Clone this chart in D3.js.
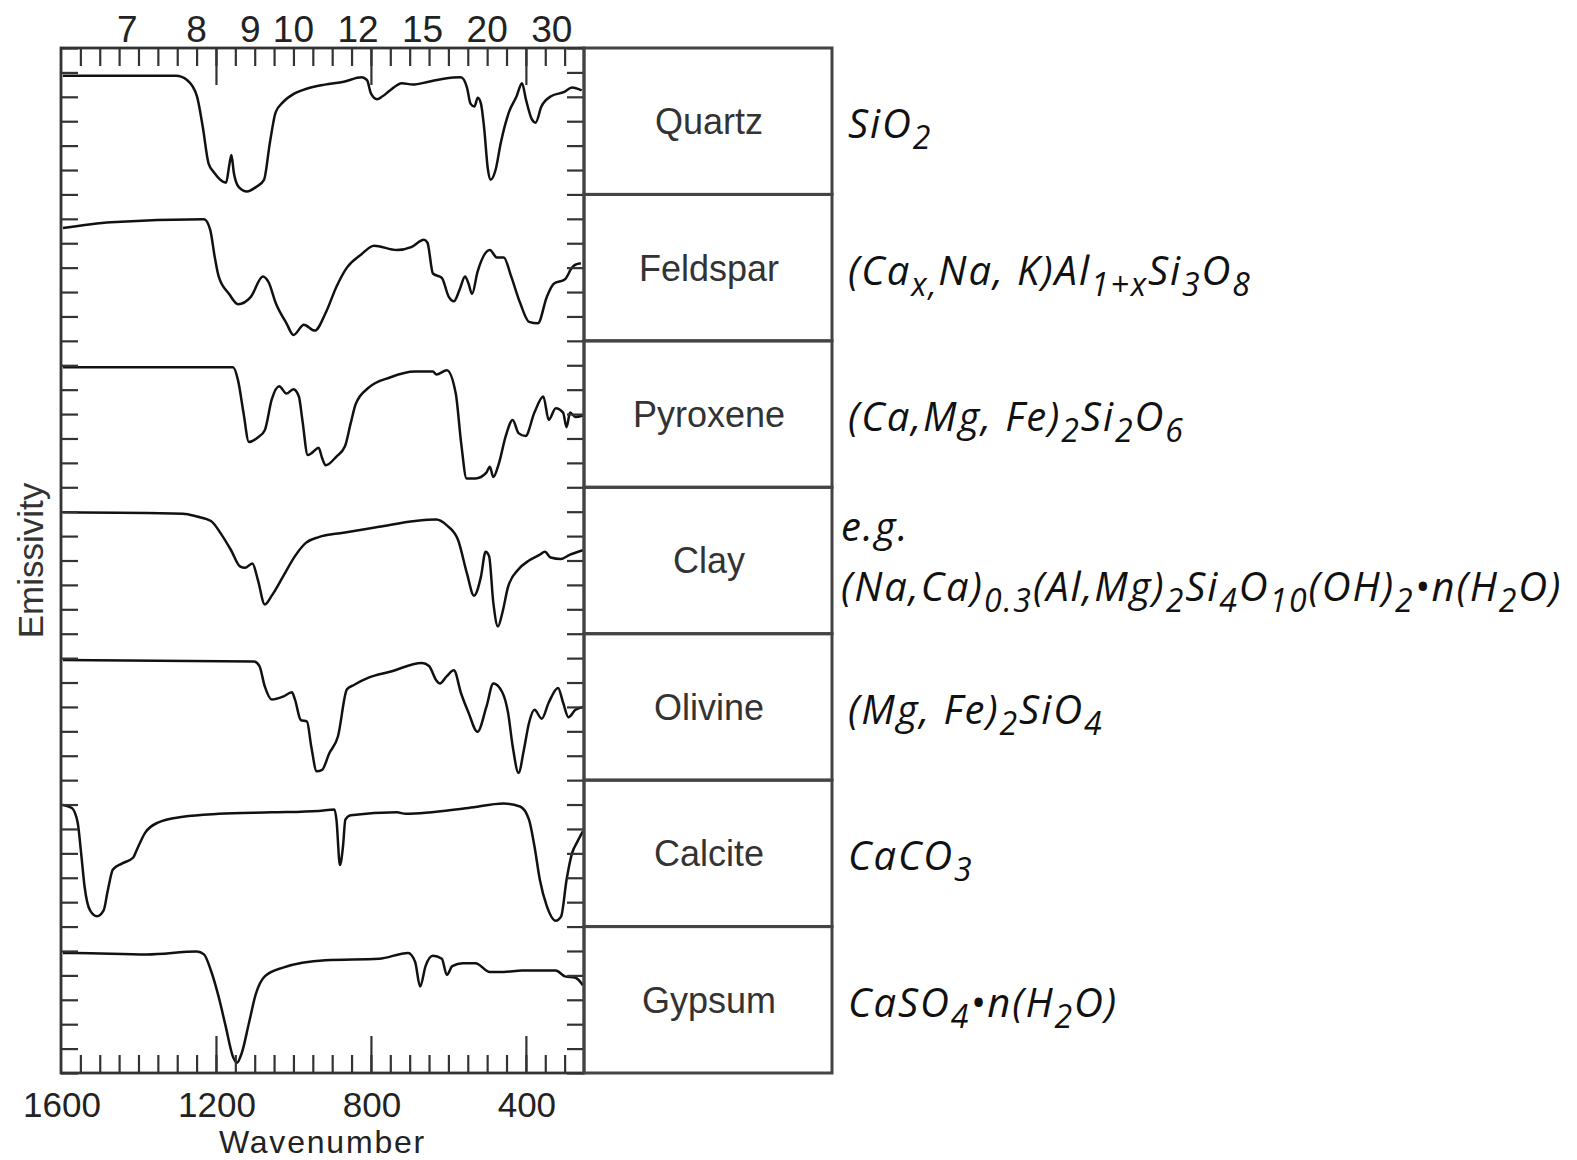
<!DOCTYPE html>
<html><head><meta charset="utf-8">
<script src="https://cdn.jsdelivr.net/npm/d3@7"></script>
<style>
body{margin:0;background:#fff;}
svg{display:block;}
</style>
</head><body>
<svg id="chart" width="1577" height="1160"></svg>
<script>
// ---------------- DATA ----------------
const minerals = ["Quartz","Feldspar","Pyroxene","Clay","Olivine","Calcite","Gypsum"];

const quartzWn = [1595,1303,1274,1249,1234,1219,1205,1174,1165,1160,1154,1141,1120,1097,1076,1061,1046,1027,997,968,919,870,824,810,800,784,770,751,720,692,651,612,568,552,543,533,524,516,508,498,491,478,465,444,424,410,400,384,375,360,335,301,281,256];
const quartzEm = [.81,.81,.78,.67,.46,.21,.15,.08,.21,.27,.15,.05,.02,.05,.10,.35,.56,.63,.69,.72,.75,.77,.80,.78,.69,.65,.67,.71,.76,.75,.77,.79,.80,.73,.62,.60,.66,.62,.46,.17,.10,.17,.35,.56,.67,.76,.65,.51,.49,.60,.67,.70,.73,.71];

const feldsparWn = [1595,1471,1231,1215,1203,1193,1166,1143,1110,1079,1064,1046,1018,1000,973,945,917,889,862,825,792,733,696,663,654,640,617,599,586,571,557,548,539,525,493,475,457,438,415,392,369,346,328,299,281,272,258];
const feldsparEm = [.77,.81,.83,.76,.57,.44,.32,.25,.30,.44,.40,.26,.12,.04,.11,.07,.19,.37,.50,.59,.65,.62,.64,.69,.67,.46,.43,.30,.27,.35,.44,.39,.32,.47,.62,.57,.57,.44,.26,.13,.12,.30,.39,.42,.50,.52,.53];

const pyroxeneWn = [1595,1156,1143,1129,1115,1092,1074,1056,1037,1018,1000,986,977,963,950,935,926,917,889,867,852,839,806,751,686,640,631,604,581,567,553,530,502,493,484,470,452,434,419,401,378,355,341,323,304,295,286,272,253];
const pyroxeneEm = [.82,.82,.73,.51,.31,.34,.39,.60,.69,.64,.67,.62,.46,.22,.24,.27,.20,.15,.21,.28,.44,.57,.68,.75,.79,.79,.77,.80,.64,.30,.06,.06,.10,.14,.07,.16,.35,.46,.37,.35,.51,.62,.46,.54,.51,.41,.51,.48,.49];

const clayWn = [1595,1285,1249,1213,1184,1161,1138,1125,1106,1092,1074,1056,1027,996,968,935,871,779,686,631,604,575,552,534,516,504,495,484,472,461,446,419,392,364,351,336,310,286,253];
const clayEm = [.83,.82,.80,.77,.67,.57,.46,.45,.48,.37,.20,.26,.39,.53,.62,.66,.69,.73,.77,.78,.74,.64,.41,.26,.39,.56,.53,.21,.05,.14,.32,.44,.50,.54,.56,.52,.51,.54,.57];

const olivineWn = [1595,1102,1088,1074,1056,1027,1004,996,981,965,954,940,926,908,885,862,844,806,751,668,650,631,622,604,586,567,548,525,502,484,461,446,434,419,405,392,378,359,341,317,304,290,272,253];
const olivineEm = [.82,.81,.78,.64,.55,.57,.60,.55,.41,.40,.23,.06,.07,.18,.30,.62,.65,.70,.74,.80,.78,.68,.66,.71,.75,.59,.46,.33,.50,.66,.60,.46,.23,.05,.21,.39,.48,.42,.53,.63,.53,.43,.48,.50];

const calciteWn = [1595,1572,1557,1548,1539,1525,1507,1490,1479,1466,1443,1414,1405,1383,1350,1285,1193,1056,935,894,889,880,872,866,852,733,710,548,457,415,392,378,364,346,323,309,295,281,267,253];
const calciteEm = [.83,.81,.71,.50,.27,.11,.07,.11,.25,.39,.43,.47,.52,.64,.71,.75,.77,.78,.79,.80,.73,.42,.55,.73,.76,.78,.77,.81,.84,.82,.73,.55,.32,.14,.04,.07,.32,.50,.58,.65];

const gypsumWn = [1595,1562,1378,1249,1231,1213,1193,1175,1156,1146,1133,1115,1097,1074,1027,917,779,704,686,673,659,640,617,604,590,563,530,493,457,410,323,299,272,253];
const gypsumEm = [.82,.82,.81,.83,.81,.70,.52,.32,.11,.07,.14,.34,.54,.66,.72,.77,.78,.82,.76,.59,.73,.80,.78,.67,.73,.75,.75,.69,.69,.70,.70,.66,.65,.60];

const bottomTickLabels = [1600,1200,800,400];
const topTickLabels = [7,8,9,10,12,15,20,30];   // wavelength, micrometres
const majorTicks = [1200,800,400];
const xTitle = "Wavenumber";
const yTitle = "Emissivity";

// formula segments: [text, isSubscript]
const formulaQuartz   = [["SiO",0],["2",1]];
const formulaFeldspar = [["(Ca",0],["x,",1],["Na, K)Al",0],["1+x",1],["Si",0],["3",1],["O",0],["8",1]];
const formulaPyroxene = [["(Ca,Mg, Fe)",0],["2",1],["Si",0],["2",1],["O",0],["6",1]];
const formulaClay1    = [["e.g.",0]];
const formulaClay2    = [["(Na,Ca)",0],["0.3",1],["(Al,Mg)",0],["2",1],["Si",0],["4",1],["O",0],["10",1],["(OH)",0],["2",1],["\u2022n(H",0],["2",1],["O)",0]];
const formulaOlivine  = [["(Mg, Fe)",0],["2",1],["SiO",0],["4",1]];
const formulaCalcite  = [["CaCO",0],["3",1]];
const formulaGypsum   = [["CaSO",0],["4",1],["\u2022n(H",0],["2",1],["O)",0]];

// ---------------- BUILD ----------------
const series = {
  Quartz: [quartzWn, quartzEm], Feldspar: [feldsparWn, feldsparEm],
  Pyroxene: [pyroxeneWn, pyroxeneEm], Clay: [clayWn, clayEm],
  Olivine: [olivineWn, olivineEm], Calcite: [calciteWn, calciteEm],
  Gypsum: [gypsumWn, gypsumEm]
};
const formulas = {
  Quartz: [formulaQuartz], Feldspar: [formulaFeldspar], Pyroxene: [formulaPyroxene],
  Clay: [formulaClay1, formulaClay2], Olivine: [formulaOlivine],
  Calcite: [formulaCalcite], Gypsum: [formulaGypsum]
};

const L = 61, R = 584, T = 48, B = 1073, TR = 832;
const svg = d3.select("#chart");
const axisFont = "'Liberation Sans', Arial, sans-serif";
const ink = "#222";

const x = d3.scaleLinear().domain([1600, 250]).range([L, R]);
const band = d3.scaleBand().domain(minerals).range([T, B]);
const bw = band.bandwidth();

// spectra
const line = d3.line().curve(d3.curveMonotoneX);
minerals.forEach(m => {
  const [wn, em] = series[m];
  const y = d3.scaleLinear().domain([0, 1]).range([band(m) + bw, band(m)]);
  const pts = wn.map((w, i) => [x(w), y(em[i])]);
  svg.append("path").attr("d", line(pts))
    .attr("fill", "none").attr("stroke", "#111").attr("stroke-width", 2.5)
    .attr("stroke-linejoin", "round");
});

function styleTicks(g){
  g.select(".domain").remove();
  g.selectAll(".tick line").attr("stroke", "#333").attr("stroke-width", 2.2);
  g.selectAll(".tick text").remove();
}
const minor = d3.range(1550, 250, -50);

// bottom ticks
svg.append("g").attr("transform", `translate(0,${B})`)
  .call(d3.axisBottom(x).tickValues(minor).tickSize(-18)).call(styleTicks);
svg.append("g").attr("transform", `translate(0,${B})`)
  .call(d3.axisBottom(x).tickValues(majorTicks).tickSize(-37)).call(styleTicks);
// top ticks
svg.append("g").attr("transform", `translate(0,${T})`)
  .call(d3.axisTop(x).tickValues(minor).tickSize(-18)).call(styleTicks);
svg.append("g").attr("transform", `translate(0,${T})`)
  .call(d3.axisTop(x).tickValues(majorTicks).tickSize(-37)).call(styleTicks);

// left / right ticks (6 per panel)
const yTicks = d3.scaleLinear().domain([0, minerals.length * 6]).range([T, B]);
const yTickVals = d3.range(0, minerals.length * 6 + 1);
svg.append("g").attr("transform", `translate(${L},0)`)
  .call(d3.axisLeft(yTicks).tickValues(yTickVals).tickSize(-17)).call(styleTicks);
svg.append("g").attr("transform", `translate(${R},0)`)
  .call(d3.axisRight(yTicks).tickValues(yTickVals).tickSize(-17)).call(styleTicks);

// frame
svg.append("rect").attr("x", L).attr("y", T).attr("width", R - L).attr("height", B - T)
  .attr("fill", "none").attr("stroke", "#333").attr("stroke-width", 2.8);

// bottom labels
svg.append("g").selectAll("text").data(bottomTickLabels).join("text")
  .attr("x", d => x(d) + 1).attr("y", 1117).attr("text-anchor", "middle")
  .attr("font-family", axisFont).attr("font-size", 35).attr("fill", ink)
  .text(d => d);
svg.append("text").attr("x", (L + R) / 2).attr("y", 1153).attr("text-anchor", "middle")
  .attr("font-family", axisFont).attr("font-size", 32).attr("letter-spacing", 1.8)
  .attr("fill", ink).text(xTitle);

// top labels (wavelength in µm)
svg.append("g").selectAll("text").data(topTickLabels).join("text")
  .attr("x", d => x(10000 / d)).attr("y", 42).attr("text-anchor", "middle")
  .attr("font-family", axisFont).attr("font-size", 37).attr("fill", ink)
  .text(d => d);

// y title
svg.append("text").attr("transform", `translate(43,${(T + B) / 2}) rotate(-90)`)
  .attr("text-anchor", "middle").attr("font-family", axisFont).attr("font-size", 35)
  .attr("fill", "#333").text(yTitle);

// table
const rows = svg.append("g");
minerals.forEach(m => {
  rows.append("rect").attr("x", R).attr("y", band(m)).attr("width", TR - R).attr("height", bw)
    .attr("fill", "none").attr("stroke", "#444").attr("stroke-width", 3);
  rows.append("text").attr("x", (R + TR) / 2 + 1).attr("y", band(m) + bw / 2).attr("dy", "0.36em")
    .attr("text-anchor", "middle").attr("font-family", axisFont).attr("font-size", 36)
    .attr("fill", "#333").text(m);
});

// formulas
const fFont = "'Open Sans', 'Noto Sans', sans-serif";
const fSize = 40, subShift = 11;
function drawFormula(segs, x0, y0){
  const t = svg.append("text").attr("x", x0).attr("y", y0)
    .attr("font-family", fFont).attr("font-style", "italic")
    .attr("font-size", fSize).attr("fill", "#111").attr("letter-spacing", 1.9);
  let sub = 0;
  segs.forEach(([s, isSub]) => {
    const ts = t.append("tspan").text(s);
    if (isSub && !sub) ts.attr("dy", subShift);
    if (!isSub && sub) ts.attr("dy", -subShift);
    if (isSub) ts.attr("font-size", fSize * 0.8);
    sub = isSub;
  });
}
minerals.forEach(m => {
  const c = band(m) + bw / 2;
  const f = formulas[m];
  if (f.length === 1) drawFormula(f[0], 848, c + 17);
  else { drawFormula(f[0], 841, c - 20); drawFormula(f[1], 841, c + 40); }
});
</script>
</body></html>
